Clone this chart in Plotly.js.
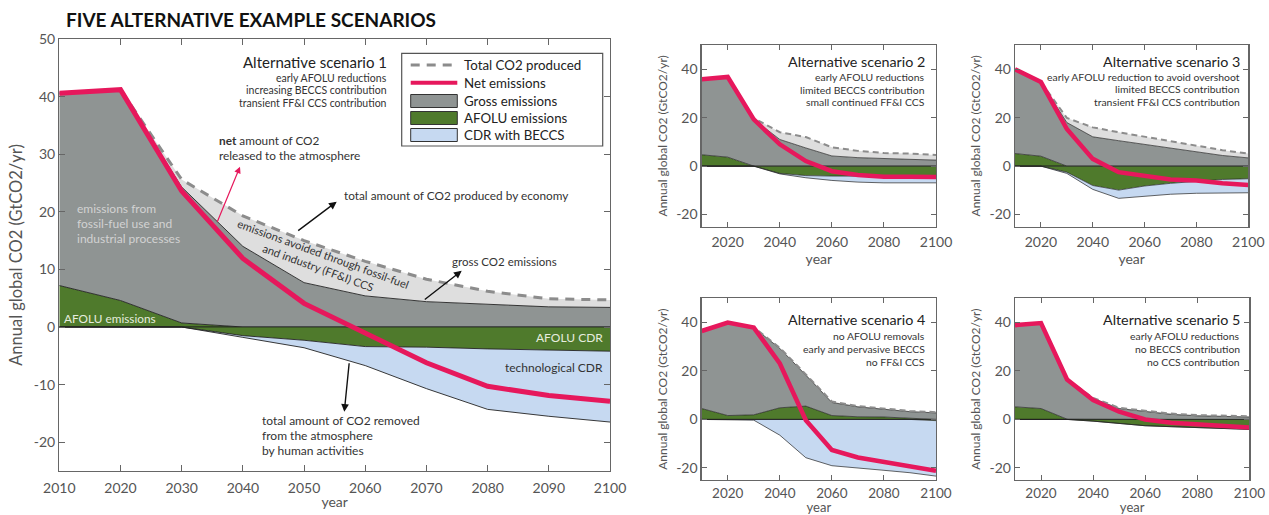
<!DOCTYPE html>
<html><head><meta charset="utf-8">
<script src="https://cdn.plot.ly/plotly-3.0.1.min.js"></script>
<style>html,body{margin:0;padding:0;background:#fff}#chart{width:1269px;height:515px}</style>
</head><body><div id="chart"></div>
<script>
const years = [2010,2020,2030,2040,2050,2060,2070,2080,2090,2100];
const zeroLine = [0,0,0,0,0,0,0,0,0,0];

// Scenario 1
const s1Net      = [40.6, 41.2, 23.6, 11.9, 4.1, -1.0, -6.2, -10.3, -11.9, -12.9];
const s1Gross    = [40.6, 41.2, 24.3, 14.0, 7.7, 5.4, 4.4, 3.9, 3.5, 3.4];
const s1Produced = [40.6, 41.2, 25.6, 19.3, 15.0, 11.4, 8.3, 6.2, 4.9, 4.7];
const s1AfoluEm  = [7.2, 4.6, 0.7, 0, 0, 0, 0, 0, 0, 0];
const s1AfoluCdr = [0, 0, 0, -1.5, -2.3, -3.4, -3.5, -3.8, -4.0, -4.2];
const s1Removal  = [0, 0, 0, -1.8, -3.6, -6.7, -10.7, -14.3, -15.5, -16.5];

// Scenario 2
const s2Net      = [35.9, 36.8, 19.3, 9.0, 2.1, -2.1, -3.7, -4.4, -4.4, -4.5];
const s2Gross    = [35.9, 36.8, 19.3, 11.0, 7.5, 4.2, 3.5, 3.0, 2.8, 2.5];
const s2Produced = [35.9, 36.8, 19.8, 14.0, 12.0, 7.8, 6.3, 5.4, 5.2, 4.6];
const s2AfoluEm  = [4.7, 3.7, 0, 0, 0, 0, 0, 0, 0, 0];
const s2AfoluCdr = [0, 0, 0, -3.0, -3.9, -4.1, -4.1, -4.2, -4.2, -4.2];
const s2Removal  = [0, 0, 0, -3.2, -4.8, -5.9, -6.6, -6.9, -6.9, -6.9];

// Scenario 3
const s3Net      = [40.0, 34.7, 15.3, 3.0, -2.5, -4.1, -5.5, -5.9, -7.1, -7.8];
const s3Gross    = [40.0, 34.7, 18.0, 12.1, 10.5, 8.9, 7.3, 5.9, 4.4, 3.4];
const s3Produced = [40.0, 34.7, 19.9, 16.0, 14.0, 12.1, 10.3, 8.2, 6.6, 5.2];
const s3AfoluEm  = [5.2, 4.1, 0, 0, 0, 0, 0, 0, 0, 0];
const s3AfoluCdr = [0, 0, -2.5, -8.0, -9.9, -8.2, -7.1, -6.2, -5.5, -5.2];
const s3Removal  = [0, 0, -3.0, -9.6, -13.3, -12.3, -11.6, -11.2, -11.0, -11.0];

// Scenario 4
const s4Net      = [36.5, 40.0, 37.9, 23.1, -0.3, -12.6, -15.7, -17.4, -19.1, -21.2];
const s4Gross    = [36.5, 40.0, 37.9, 29.3, 18.3, 7.0, 5.2, 4.1, 3.2, 2.7];
const s4Produced = [36.5, 40.0, 38.0, 29.6, 18.6, 7.4, 5.5, 4.4, 3.5, 3.0];
const s4AfoluEm  = [4.5, 1.6, 1.9, 4.8, 5.5, 1.6, 1.1, 1.0, 0.5, 0];
const s4AfoluCdr = [0, 0, 0, 0, 0, 0, 0, 0, 0, -0.5];
const s4Removal  = [0, 0, -0.3, -6.5, -15.8, -19.1, -20.2, -21.0, -22.0, -23.4];

// Scenario 5
const s5Net      = [38.9, 39.8, 16.5, 8.0, 3.2, 0.0, -1.4, -1.9, -2.7, -3.3];
const s5Gross    = [38.9, 39.8, 16.5, 8.7, 4.5, 3.2, 2.1, 1.5, 1.1, 1.0];
const s5Produced = [38.9, 39.8, 16.6, 8.9, 4.8, 3.5, 2.4, 1.8, 1.4, 1.3];
const s5AfoluEm  = [5.2, 4.5, 0.1, 0, 0, 0, 0, 0, 0, 0];
const s5AfoluCdr = [0, 0, 0, -0.7, -1.6, -2.6, -3.0, -3.4, -3.8, -4.1];
const s5Removal  = [0, 0, 0, -0.7, -1.6, -2.6, -3.0, -3.4, -3.8, -4.1];

const scenarioTitles = ["Alternative scenario 1","Alternative scenario 2","Alternative scenario 3","Alternative scenario 4","Alternative scenario 5"];
const scenarioNotes = [
  ["early AFOLU reductions","increasing BECCS contribution","transient FF&I CCS contribution"],
  ["early AFOLU reductions","limited BECCS contribution","small continued FF&I CCS"],
  ["early AFOLU reduction to avoid overshoot","limited BECCS contribution","transient FF&I CCS contribution"],
  ["no AFOLU removals","early and pervasive BECCS","no FF&I CCS"],
  ["early AFOLU reductions","no BECCS contribution","no CCS contribution"]
];
const legendLabels = ["Total CO2 produced","Net emissions","Gross emissions","AFOLU emissions","CDR with BECCS"];
const yTitle = "Annual global CO2 (GtCO2/yr)";

const C = {grey:'#8f9493', light:'#dedede', green:'#4f7a2c', blue:'#c6d9f1', pink:'#e6185c', dash:'#8c8c8c', edge:'#222'};
const FONT = 'Lato, "Open Sans", sans-serif';
const W = 1269, H = 515;
const px = x => x / W, py = y => 1 - y / H;

const scen = [
  {net:s1Net, gross:s1Gross, prod:s1Produced, ae:s1AfoluEm, ac:s1AfoluCdr, rem:s1Removal},
  {net:s2Net, gross:s2Gross, prod:s2Produced, ae:s2AfoluEm, ac:s2AfoluCdr, rem:s2Removal},
  {net:s3Net, gross:s3Gross, prod:s3Produced, ae:s3AfoluEm, ac:s3AfoluCdr, rem:s3Removal},
  {net:s4Net, gross:s4Gross, prod:s4Produced, ae:s4AfoluEm, ac:s4AfoluCdr, rem:s4Removal},
  {net:s5Net, gross:s5Gross, prod:s5Produced, ae:s5AfoluEm, ac:s5AfoluCdr, rem:s5Removal}
];

const traces = [];
scen.forEach((s, i) => {
  const main = i === 0;
  const xa = i === 0 ? 'x' : 'x' + (i + 1);
  const ya = i === 0 ? 'y' : 'y' + (i + 1);
  const base = {x: years, xaxis: xa, yaxis: ya, mode: 'lines', showlegend: false, hoverinfo: 'skip'};
  const thin = {color: C.edge, width: main ? 0.9 : 0.7};
  traces.push(Object.assign({}, base, {y: zeroLine, line: {color: C.edge, width: 0.8}}));
  traces.push(Object.assign({}, base, {y: s.ae, fill: 'tonexty', fillcolor: C.green, line: thin}));
  traces.push(Object.assign({}, base, {y: s.gross, fill: 'tonexty', fillcolor: C.grey, line: thin}));
  traces.push(Object.assign({}, base, {y: s.prod, fill: 'tonexty', fillcolor: C.light, line: {color: C.dash, width: main ? 3 : 2, dash: main ? '9px,7px' : '6px,4px'}}));
  traces.push(Object.assign({}, base, {y: zeroLine, line: {color: C.edge, width: 0}}));
  traces.push(Object.assign({}, base, {y: s.ac, fill: 'tonexty', fillcolor: C.green, line: thin}));
  traces.push(Object.assign({}, base, {y: s.rem, fill: 'tonexty', fillcolor: C.blue, line: thin}));
  traces.push(Object.assign({}, base, {y: zeroLine, line: {color: C.edge, width: 0.8}}));
  traces.push(Object.assign({}, base, {y: s.net, line: {color: C.pink, width: main ? 5 : 4.5}}));
});

const domains = [
  {x:[px(59.3), px(610)], y:[py(471), py(39)]},
  {x:[px(701.7), px(936)], y:[py(226.7), py(45)]},
  {x:[px(1015), px(1248.3)], y:[py(226.7), py(45)]},
  {x:[px(701.7), px(936)], y:[py(480), py(298.3)]},
  {x:[px(1015), px(1249.3)], y:[py(480), py(298.3)]}
];

const layout = {
  width: W, height: H,
  margin: {l:0, r:0, t:0, b:0},
  paper_bgcolor: '#fff', plot_bgcolor: '#fff',
  font: {family: FONT, color: '#444'},
  hovermode: false,
  annotations: [], shapes: []
};

domains.forEach((d, i) => {
  const main = i === 0;
  const bottomRow = i >= 3;
  const k = i === 0 ? '' : String(i + 1);
  const axBase = {showgrid: false, zeroline: false, showline: true, linecolor: '#666', linewidth: 1.3,
    mirror: 'ticks', ticks: 'inside', ticklen: main ? 6 : 5, tickcolor: '#666', tickwidth: 1,
    tickfont: {family: FONT, size: 14, color: '#555'}, fixedrange: true, automargin: false};
  layout['xaxis' + k] = Object.assign({}, axBase, {
    domain: d.x, anchor: 'y' + k, range: [2010, 2100],
    tickmode: 'array',
    tickvals: main ? years : [2020, 2040, 2060, 2080, 2100],
    tickfont: {family: FONT, size: bottomRow ? 13.5 : 14, color: '#555'},
    ticklabelstandoff: main ? 4 : (bottomRow ? 0 : 2),
    title: {text: 'year', font: {family: FONT, size: bottomRow ? 13 : 14, color: '#555'}, standoff: main ? 2 : (bottomRow ? 3 : 2)}
  });
  layout['yaxis' + k] = Object.assign({}, axBase, {
    domain: d.y, anchor: 'x' + k, range: [-25, 50],
    tickmode: 'array',
    tickvals: main ? [50, 40, 30, 20, 10, 0, -10, -20] : [40, 20, 0, -20],
    ticktext: main ? ['50','40','30','20','10','0','-10','-20'] : ['40','20','0','-20'],
    title: {text: yTitle, font: {family: FONT, size: main ? 16.5 : 12, color: '#555'}, standoff: main ? 7 : 6}
  });
});

function ann(x, y, text, size, opts) {
  layout.annotations.push(Object.assign({
    xref: 'paper', yref: 'paper', x: px(x), y: py(y), text: text, showarrow: false,
    xanchor: 'left', yanchor: 'middle', font: {family: FONT, size: size, color: '#333'}
  }, opts || {}));
}
function arrow(hx, hy, tx, ty, color, width) {
  layout.annotations.push({
    xref: 'paper', yref: 'paper', x: px(hx), y: py(hy), ax: tx - hx, ay: ty - hy,
    axref: 'pixel', ayref: 'pixel', text: '', showarrow: true,
    arrowhead: 2, arrowsize: 1.1, arrowwidth: width, arrowcolor: color
  });
}

// Title
ann(64, 20, '<b>FIVE ALTERNATIVE EXAMPLE SCENARIOS</b>', 19, {font: {family: FONT, size: 19, color: '#111'}});

// Scenario titles and notes
const titlePos = [
  {x: 389, y: 62, ny: [77.7, 90.3, 103.3], ts: 15, ns: 10.5},
  {x: 927, y: 61.7, ny: [76.7, 90, 101.7], ts: 14.3, ns: 10.4},
  {x: 1241.7, y: 61.7, ny: [76.7, 89.3, 101.7], ts: 14.3, ns: 10.4},
  {x: 927, y: 319.3, ny: [335.7, 349.3, 361.7], ts: 14.3, ns: 10.4},
  {x: 1241.7, y: 319.3, ny: [335.7, 349.3, 361.7], ts: 14.3, ns: 10.4}
];
titlePos.forEach((p, i) => {
  ann(p.x, p.y, scenarioTitles[i], p.ts, {xanchor: 'right', font: {family: FONT, size: p.ts, color: '#222'}});
  scenarioNotes[i].forEach((t, j) => ann(p.x, p.ny[j], t, p.ns, {xanchor: 'right', font: {family: FONT, size: p.ns, color: '#333'}}));
});

// Main chart annotations
ann(217, 141, '<b>net</b> amount of CO2', 11.8);
ann(217, 156, 'released to the atmosphere', 11.8);
arrow(240, 166.7, 216.7, 223.3, C.pink, 1.2);
ann(342, 196, 'total amount of CO2 produced by economy', 11.8);
arrow(336.7, 201.7, 296.7, 231.7, '#111', 1.4);
ann(321, 261, 'emissions avoided through fossil-fuel<br>and industry (FF&I) CCS', 11.2, {xanchor: 'center', textangle: 20});
ann(450, 261, 'gross CO2 emissions', 11.5);
arrow(461.7, 270.7, 423.3, 300.7, '#111', 1.4);
const lightText = {family: FONT, size: 12, color: '#d2d2d2'};
ann(75, 209, 'emissions from', 12, {font: lightText});
ann(75, 224, 'fossil-fuel use and', 12, {font: lightText});
ann(75, 239, 'industrial processes', 12, {font: lightText});
ann(62, 318.5, 'AFOLU emissions', 11.8, {font: {family: FONT, size: 11.8, color: '#e6ecdf'}});
ann(605, 337, 'AFOLU CDR', 12, {xanchor: 'right', font: {family: FONT, size: 12, color: '#e6ecdf'}});
ann(605, 367, 'technological CDR', 12, {xanchor: 'right', font: {family: FONT, size: 12, color: '#333'}});
arrow(344.3, 411.7, 349.3, 361.7, '#111', 1.4);
ann(260, 420, 'total amount of CO2 removed', 12);
ann(260, 435.5, 'from the atmosphere', 12);
ann(260, 450.5, 'by human activities', 12);

// Legend (manual)
const L = {x0: 401.7, y0: 53.3, x1: 602.7, y1: 146, sx0: 410.7, sx1: 457.3, tx: 462, rows: [65, 82.7, 101, 118, 135]};
layout.shapes.push({type: 'rect', xref: 'paper', yref: 'paper', x0: px(L.x0), x1: px(L.x1), y0: py(L.y1), y1: py(L.y0), line: {color: '#555', width: 1.2}, fillcolor: '#fff', layer: 'above'});
layout.shapes.push({type: 'line', xref: 'paper', yref: 'paper', x0: px(L.sx0), x1: px(L.sx1), y0: py(L.rows[0]), y1: py(L.rows[0]), line: {color: C.dash, width: 3, dash: '9px,7px'}, layer: 'above'});
layout.shapes.push({type: 'line', xref: 'paper', yref: 'paper', x0: px(L.sx0), x1: px(L.sx1), y0: py(L.rows[1]), y1: py(L.rows[1]), line: {color: C.pink, width: 4}, layer: 'above'});
[C.grey, C.green, C.blue].forEach((c, j) => {
  const yy = L.rows[j + 2];
  layout.shapes.push({type: 'rect', xref: 'paper', yref: 'paper', x0: px(L.sx0), x1: px(L.sx1), y0: py(yy + 6.5), y1: py(yy - 6.5), line: {color: '#333', width: 1}, fillcolor: c, layer: 'above'});
});
legendLabels.forEach((t, j) => ann(L.tx, L.rows[j], t, 13.3, {font: {family: FONT, size: 13.3, color: '#222'}}));

Plotly.newPlot('chart', traces, layout, {staticPlot: true, displayModeBar: false});
</script>
</body></html>
